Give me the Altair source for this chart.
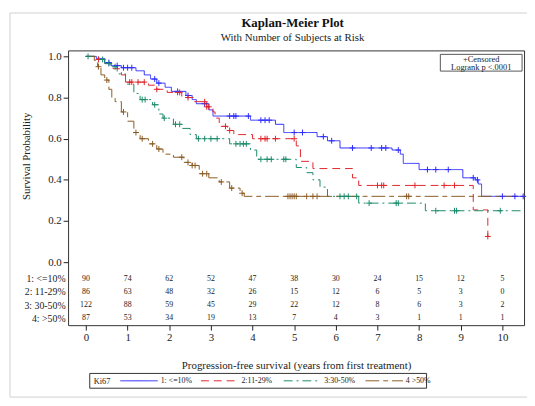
import altair as alt
import pandas as pd

FONT = "Liberation Serif"

groups = ["1: <=10%", "2: 11-29%", "3: 30-50%", "4: >50%"]
legend_labels = ["1: <=10%", "2:11-29%", "3:30-50%", "4 >50%"]
colors = ["#2b2bff", "#e0262c", "#1a8a6a", "#8b5a24"]
dashes = [[1, 0], [8, 5], [9, 4, 2, 4], [14, 4, 5, 4]]

# Kaplan-Meier step points (time, survival after step)
g1_t = [0, 0.25, 0.45, 0.6, 0.85, 1.2, 1.4, 1.55, 1.7, 1.9, 2.05, 2.4, 2.55, 2.65, 2.95, 3.05,
        3.95, 4.55, 4.75, 5.55, 5.8, 6.1, 7.35, 7.55, 7.62, 8.0, 9.05, 9.35, 9.42, 9.5, 10.5]
g1_s = [1.0, 0.99, 0.97, 0.955, 0.945, 0.93, 0.91, 0.89, 0.87, 0.85, 0.83, 0.81, 0.79, 0.77, 0.74, 0.71,
        0.69, 0.67, 0.63, 0.61, 0.59, 0.555, 0.545, 0.525, 0.48, 0.45, 0.41, 0.40, 0.38, 0.32, 0.32]

g2_t = [0, 0.3, 0.45, 0.65, 0.85, 0.95, 1.5, 1.7, 1.95, 2.3, 2.6, 2.9, 3.05, 3.1, 3.2, 3.4, 3.55,
        4.0, 5.05, 5.15, 5.45, 6.4, 6.55, 9.3, 9.65]
g2_s = [1.0, 0.985, 0.965, 0.94, 0.91, 0.875, 0.86, 0.84, 0.825, 0.80, 0.78, 0.755, 0.73, 0.70, 0.66, 0.64, 0.62,
        0.60, 0.565, 0.49, 0.455, 0.41, 0.373, 0.254, 0.125]

g3_t = [0, 0.3, 0.45, 0.6, 0.75, 0.95, 1.15, 1.3, 1.6, 1.75, 1.85, 2.1, 2.3, 2.5, 2.65, 3.45, 3.95,
        4.1, 5.05, 5.3, 5.45, 5.62, 5.8, 6.55, 8.15, 10.5]
g3_s = [1.0, 0.985, 0.965, 0.95, 0.915, 0.865, 0.82, 0.79, 0.765, 0.72, 0.70, 0.67, 0.65, 0.62, 0.60, 0.575, 0.545,
        0.50, 0.46, 0.435, 0.40, 0.365, 0.32, 0.287, 0.25, 0.25]

g4_t = [0, 0.2, 0.28, 0.36, 0.45, 0.55, 0.62, 0.7, 0.85, 1.0, 1.15, 1.3, 1.5, 1.7, 1.85, 2.1, 2.35,
        2.55, 2.72, 2.95, 3.2, 3.45, 3.7, 3.8, 10.5]
g4_s = [1.0, 0.98, 0.95, 0.91, 0.885, 0.84, 0.80, 0.78, 0.73, 0.685, 0.63, 0.60, 0.575, 0.55, 0.525, 0.51, 0.485,
        0.47, 0.43, 0.41, 0.39, 0.36, 0.335, 0.32, 0.32]

# censoring times
c1 = [0.55, 0.75, 0.9, 1.0, 1.1, 1.65, 1.75, 2.2, 2.45, 2.85, 3.45, 3.55, 3.6, 3.9, 4.2, 4.3, 4.4,
      5.0, 5.2, 5.7, 5.9, 6.4, 6.85, 7.1, 7.2, 7.5, 8.2, 8.4, 8.7, 9.3, 9.4, 10.0, 10.3, 10.5]
c2 = [0.3, 1.05, 1.1, 1.25, 1.4, 1.7, 2.2, 2.25, 2.45, 2.85, 2.9, 2.95, 3.35, 3.45, 4.2, 4.3, 4.35,
      4.55, 5.0, 7.0, 7.1, 7.15, 7.9, 8.6, 8.85, 9.65]
c3 = [0.05, 0.4, 0.55, 0.7, 1.35, 1.42, 1.65, 1.88, 2.15, 2.25, 2.7, 2.85, 3.0, 3.15, 3.6, 3.7, 3.78,
      3.85, 4.2, 4.35, 4.45, 4.75, 4.8, 6.1, 6.2, 6.3, 6.5, 6.8, 7.45, 7.5, 8.4, 8.85, 8.9, 9.95]
c4 = [0.3, 0.5, 0.9, 1.2, 1.35, 1.6, 1.75, 2.3, 2.45, 2.55, 2.62, 2.8, 2.9, 3.25, 3.5, 3.75, 4.85,
      4.9, 4.95, 5.0, 5.05, 5.3, 5.45, 5.55, 7.7, 7.75]

# number at risk
risk_times = list(range(11))
risk1 = [90, 74, 62, 52, 47, 38, 30, 24, 15, 12, 5]
risk2 = [86, 63, 48, 32, 26, 15, 12, 6, 5, 3, 0]
risk3 = [122, 88, 59, 45, 29, 22, 12, 8, 6, 3, 2]
risk4 = [87, 53, 34, 19, 13, 7, 4, 3, 1, 1, 1]

curves = [(g1_t, g1_s), (g2_t, g2_s), (g3_t, g3_s), (g4_t, g4_s)]
censors = [c1, c2, c3, c4]
risks = [risk1, risk2, risk3, risk4]


def step_value(ts, ss, t):
    v = ss[0]
    for tt, s in zip(ts, ss):
        if tt <= t:
            v = s
    return v


line_rows, cens_rows, risk_rows = [], [], []
for g, (ts, ss), cs, rk in zip(groups, curves, censors, risks):
    for t, s in zip(ts, ss):
        line_rows.append({"group": g, "t": t, "s": s})
    for t in cs:
        cens_rows.append({"group": g, "t": t, "s": step_value(ts, ss, t)})
    for t, n in zip(risk_times, rk):
        risk_rows.append({"group": g, "t": t, "n": str(n)})

lines_df = pd.DataFrame(line_rows)
cens_df = pd.DataFrame(cens_rows)
risk_df = pd.DataFrame(risk_rows)

W, H = 463, 279
xscale = alt.Scale(domain=[-0.43, 10.52], nice=False, zero=False)
yscale = alt.Scale(domain=[-0.306, 1.029], nice=False, zero=False)
cscale = alt.Scale(domain=groups, range=colors)
dscale = alt.Scale(domain=groups, range=dashes)

xaxis = alt.Axis(values=risk_times, tickSize=5, labelFontSize=11, domain=False, grid=False,
                 labelPadding=2, titlePadding=17, titleFontSize=11, titleFontWeight="normal",
                 tickColor="#222", labelColor="#222", titleColor="#222",
                 title="Progression-free survival (years from first treatment)")
yaxis = alt.Axis(values=[0, 0.2, 0.4, 0.6, 0.8, 1.0], format=".1f", tickSize=5, labelFontSize=11,
                 domain=False, grid=False, labelPadding=2, tickColor="#222", labelColor="#222",
                 title="Survival Probability", titleFontSize=11, titleFontWeight="normal",
                 titleX=-37, titleY=107, titleColor="#222")

lines = alt.Chart(lines_df).mark_line(interpolate="step-after", strokeWidth=1).encode(
    x=alt.X("t:Q", scale=xscale, axis=xaxis),
    y=alt.Y("s:Q", scale=yscale, axis=yaxis),
    color=alt.Color("group:N", scale=cscale, legend=None),
    strokeDash=alt.StrokeDash("group:N", scale=dscale, legend=None),
    detail="group:N",
)

points = alt.Chart(cens_df).mark_point(shape="M-1,0L1,0M0,-1L0,1", filled=False, size=36,
                                       strokeWidth=1, opacity=1).encode(
    x=alt.X("t:Q", scale=xscale),
    y=alt.Y("s:Q", scale=yscale),
    color=alt.Color("group:N", scale=cscale, legend=None),
)

one = pd.DataFrame({"k": [0]})


def rect(x, x2, y, y2, stroke, fill=None):
    return alt.Chart(one).mark_rect(fill=fill, stroke=stroke, strokeWidth=1).encode(
        x=alt.value(x), x2=alt.value(x2), y=alt.value(y), y2=alt.value(y2))


def label(x, y, txt, size, align="center", weight="normal", color="#222"):
    return alt.Chart(one).mark_text(fontSize=size, color=color, align=align, baseline="middle",
                                    fontWeight=weight).encode(
        x=alt.value(x), y=alt.value(y), text=alt.value(txt))


layers = [rect(-59, 480, -38, 352, "#d0d0d0")]
layers += [lines, points]

# titles
layers.append(label(228, -28, "Kaplan-Meier Plot", 13, weight="bold", color="#111"))
layers.append(label(228, -13, "With Number of Subjects at Risk", 11))

# censored / logrank box
layers.append(rect(378, 461, 4, 21, "#555", "white"))
layers.append(label(419.5, 8.5, "+Censored", 8.5))
layers.append(label(419.5, 16.5, "Logrank p <.0001", 8.5))

# legend at bottom
ly = 335.5
layers.append(rect(22, 364, 328, 343, "#333", "white"))
layers.append(label(26, ly, "Ki67", 8.5, align="left"))
leg_x = [53, 135, 219, 302]
for x0, col, dash, lab in zip(leg_x, colors, dashes, legend_labels):
    layers.append(alt.Chart(one).mark_rule(color=col, strokeWidth=1, strokeDash=dash).encode(
        x=alt.value(x0), x2=alt.value(x0 + 38), y=alt.value(ly)))
    layers.append(label(x0 + 41, ly, lab, 8, align="left"))

curves_layer = alt.layer(*layers)

risk_text = alt.Chart(risk_df).mark_text(fontSize=8, color="#222").encode(
    x=alt.X("t:Q", scale=xscale),
    y=alt.Y("group:N", scale=alt.Scale(type="point", domain=groups, range=[232, 272], padding=0),
            axis=alt.Axis(orient="left", domain=False, ticks=False, labelPadding=3, labelFontSize=10,
                          title=None, labelColor="#222")),
    text="n:N",
)

chart = alt.layer(curves_layer, risk_text).resolve_scale(y="independent").properties(
    width=W, height=H,
    autosize=alt.AutoSizeParams(type="none"),
    padding={"left": 61, "top": 40, "right": 3, "bottom": 79},
).configure(font=FONT).configure_view(stroke="#333", strokeWidth=1)

chart.save("out.html", embed_options={"renderer": "svg", "actions": False})
